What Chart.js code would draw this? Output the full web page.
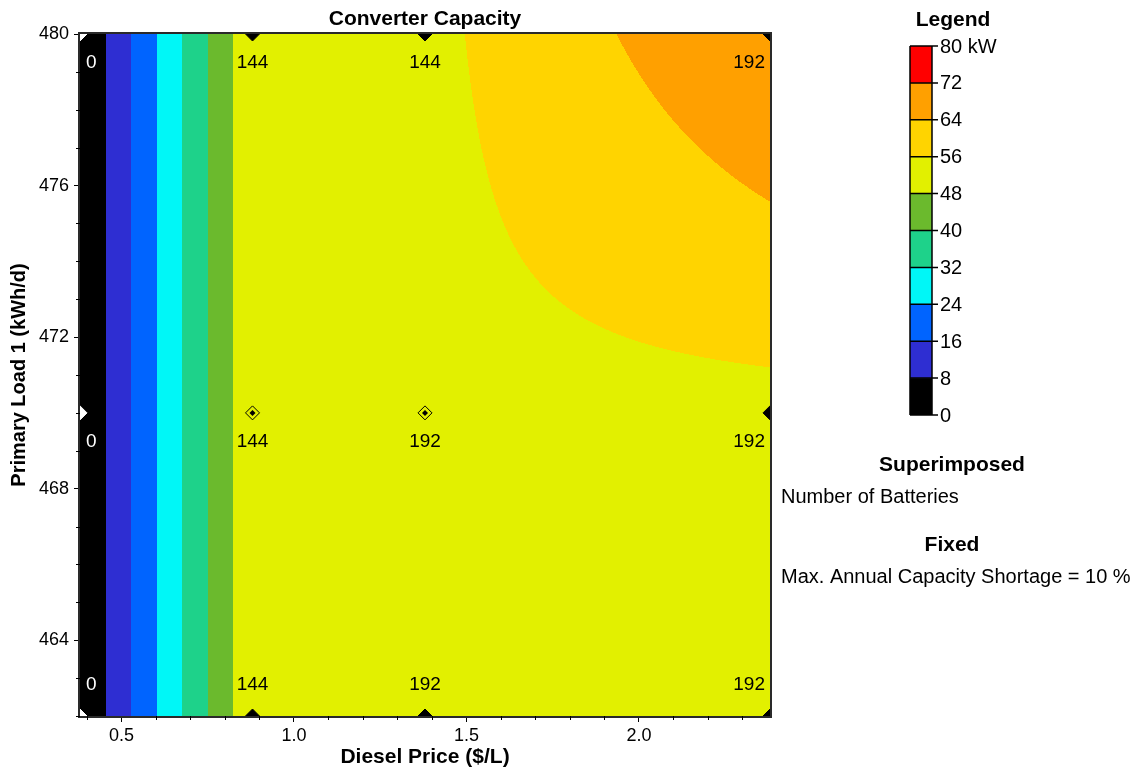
<!DOCTYPE html>
<html>
<head>
<meta charset="utf-8">
<title>Converter Capacity</title>
<script src="https://cdn.jsdelivr.net/npm/chart.js@4.4.1/dist/chart.umd.min.js"></script>
<style>
  html, body { margin: 0; padding: 0; background: #fff; }
  #wrap { width: 1134px; height: 771px; position: relative; }
</style>
</head>
<body>
<div id="wrap"><canvas id="chart"></canvas></div>
<script>
// sensitivity grid
const dieselPrices = [0.38, 0.88, 1.38, 2.38];   // $/L
const primaryLoads = [462, 470, 480];            // kWh/d

// converter capacity (kW), one row per primary load
const capacity462 = [0, 54, 54, 54];
const capacity470 = [0, 54, 54, 53.8];
const capacity480 = [0, 54, 53.9, 72.1];

// superimposed: number of batteries
const batteries462 = [0, 144, 192, 192];
const batteries470 = [0, 144, 192, 192];
const batteries480 = [0, 144, 144, 192];

// legend bands (kW)
const legendLevels = [0, 8, 16, 24, 32, 40, 48, 56, 64, 72, 80];
const legendColors = ['#000000', '#2e2ed2', '#0064ff', '#00f7f7', '#1ed28a',
                      '#6bba2d', '#e2f000', '#ffd400', '#ffa000', '#ff0000'];

const xTicks = [0.5, 1.0, 1.5, 2.0];
const yTicks = [464, 468, 472, 476, 480];
const superimposedText = 'Number of Batteries';
const fixedText = 'Max. Annual Capacity Shortage = 10 %';

const FONT = '"Liberation Sans", Arial, sans-serif';
Chart.defaults.font.family = FONT;
Chart.defaults.color = '#000';

const capacityRows = [capacity462, capacity470, capacity480];
const batteryRows = [batteries462, batteries470, batteries480];

const gridPoints = [];
primaryLoads.forEach((load, j) => {
  dieselPrices.forEach((price, i) => {
    gridPoints.push({ x: price, y: load, cap: capacityRows[j][i], bat: batteryRows[j][i], i, j });
  });
});

function findCell(arr, v) {
  let i = 0;
  while (i < arr.length - 2 && v > arr[i + 1]) i++;
  return i;
}

// bilinear value of the surface between grid points
function capacityAt(x, y) {
  const i = findCell(dieselPrices, x);
  const j = findCell(primaryLoads, y);
  let t = (x - dieselPrices[i]) / (dieselPrices[i + 1] - dieselPrices[i]);
  let s = (y - primaryLoads[j]) / (primaryLoads[j + 1] - primaryLoads[j]);
  t = Math.min(1, Math.max(0, t));
  s = Math.min(1, Math.max(0, s));
  const r0 = capacityRows[j], r1 = capacityRows[j + 1];
  return r0[i] * (1 - t) * (1 - s) + r0[i + 1] * t * (1 - s) +
         r1[i] * (1 - t) * s + r1[i + 1] * t * s;
}

function bandIndex(v) {
  let k = 0;
  while (k < legendColors.length - 1 && v >= legendLevels[k + 1]) k++;
  return k;
}

function hexToRgb(h) {
  return [parseInt(h.slice(1, 3), 16), parseInt(h.slice(3, 5), 16), parseInt(h.slice(5, 7), 16)];
}
const bandRgb = legendColors.map(hexToRgb);

const isEdge = p => p.i === 0 || p.i === dieselPrices.length - 1 ||
                    p.j === 0 || p.j === primaryLoads.length - 1;
const markColor = p => (p.cap < legendLevels[1] ? '#ffffff' : '#000000');

let surfaceCache = null;
const surfacePlugin = {
  id: 'surface',
  beforeDatasetsDraw(chart) {
    const { ctx, chartArea: a, scales: { x, y } } = chart;
    const w = Math.round(a.right - a.left), h = Math.round(a.bottom - a.top);
    if (!surfaceCache || surfaceCache.width !== w || surfaceCache.height !== h) {
      surfaceCache = document.createElement('canvas');
      surfaceCache.width = w;
      surfaceCache.height = h;
      const octx = surfaceCache.getContext('2d');
      const img = octx.createImageData(w, h);
      const xv = [];
      for (let px = 0; px < w; px++) xv.push(x.getValueForPixel(a.left + px + 0.5));
      for (let py = 0; py < h; py++) {
        const yv = y.getValueForPixel(a.top + py + 0.5);
        for (let px = 0; px < w; px++) {
          const c = bandRgb[bandIndex(capacityAt(xv[px], yv))];
          const o = (py * w + px) * 4;
          img.data[o] = c[0]; img.data[o + 1] = c[1]; img.data[o + 2] = c[2]; img.data[o + 3] = 255;
        }
      }
      octx.putImageData(img, 0, 0);
    }
    ctx.drawImage(surfaceCache, a.left, a.top);
  },
  afterDatasetsDraw(chart) {
    const { ctx, chartArea: a, scales: { x, y } } = chart;
    ctx.save();
    // battery count labels
    ctx.font = '19px ' + FONT;
    ctx.textBaseline = 'middle';
    gridPoints.forEach(p => {
      let px = x.getPixelForValue(p.x);
      let py = y.getPixelForValue(p.y);
      if (p.i === 0) { ctx.textAlign = 'left'; px += 6; }
      else if (p.i === dieselPrices.length - 1) { ctx.textAlign = 'right'; px -= 5; }
      else ctx.textAlign = 'center';
      py += p.j === 0 ? -31 : 29;
      ctx.fillStyle = markColor(p);
      ctx.fillText(String(p.bat), px, py);
    });
    // frame
    ctx.strokeStyle = '#2a2a2a';
    ctx.lineWidth = 2;
    ctx.strokeRect(a.left - 1, a.top - 1, a.right - a.left + 2, a.bottom - a.top + 2);
    // minor ticks
    ctx.strokeStyle = '#000';
    ctx.lineWidth = 1;
    ctx.beginPath();
    for (let k = Math.ceil(x.min * 10); k <= Math.floor(x.max * 10); k++) {
      if (k % 5 === 0) continue;
      const px = Math.round(x.getPixelForValue(k / 10)) + 0.5;
      ctx.moveTo(px, a.bottom);
      ctx.lineTo(px, a.bottom + 4);
    }
    for (let v = Math.ceil(y.min); v <= Math.floor(y.max); v++) {
      if (v % 4 === 0) continue;
      const py = Math.round(y.getPixelForValue(v)) + 0.5;
      ctx.moveTo(a.left, py);
      ctx.lineTo(a.left - 4, py);
    }
    ctx.stroke();
    ctx.restore();
  }
};

const sidePanelPlugin = {
  id: 'sidePanel',
  afterDraw(chart) {
    const ctx = chart.ctx;
    const barLeft = 910, barTop = 46, barW = 22, barBottom = 415;
    const n = legendColors.length;
    const segH = (barBottom - barTop) / n;
    ctx.save();
    ctx.fillStyle = '#000';
    ctx.textAlign = 'center';
    ctx.textBaseline = 'middle';
    ctx.font = 'bold 21px ' + FONT;
    ctx.fillText('Legend', 953, 20);

    legendColors.forEach((c, k) => {
      ctx.fillStyle = c;
      ctx.fillRect(barLeft, barBottom - (k + 1) * segH, barW, segH);
    });
    ctx.strokeStyle = '#000';
    ctx.lineWidth = 1.5;
    ctx.beginPath();
    legendLevels.forEach((lv, k) => {
      const yy = barBottom - k * segH;
      ctx.moveTo(barLeft, yy);
      ctx.lineTo(barLeft + barW + 6, yy);
    });
    ctx.moveTo(barLeft, barTop);
    ctx.lineTo(barLeft, barBottom);
    ctx.moveTo(barLeft + barW, barTop);
    ctx.lineTo(barLeft + barW, barBottom);
    ctx.stroke();

    ctx.fillStyle = '#000';
    ctx.font = '20px ' + FONT;
    ctx.textAlign = 'left';
    legendLevels.forEach((lv, k) => {
      const label = k === n ? lv + ' kW' : String(lv);
      ctx.fillText(label, barLeft + barW + 8, barBottom - k * segH + 1);
    });

    ctx.textAlign = 'center';
    ctx.font = 'bold 21px ' + FONT;
    ctx.fillText('Superimposed', 952, 465);
    ctx.fillText('Fixed', 952, 545);
    ctx.textAlign = 'left';
    ctx.font = '20px ' + FONT;
    ctx.fillText(superimposedText, 781, 497);
    ctx.fillText(fixedText, 781, 577);
    ctx.restore();
  }
};

new Chart(document.getElementById('chart'), {
  type: 'scatter',
  data: {
    datasets: [
      {
        label: 'Number of Batteries',
        data: gridPoints,
        pointStyle: 'rectRot',
        pointRadius: 7,
        pointBorderWidth: 1,
        pointBorderColor: c => markColor(c.raw),
        pointBackgroundColor: c => (isEdge(c.raw) ? markColor(c.raw) : 'rgba(0,0,0,0)'),
        clip: 0
      },
      {
        label: 'marker centre',
        data: gridPoints,
        pointStyle: 'rectRot',
        pointRadius: 3,
        pointBorderWidth: 0,
        pointBackgroundColor: c => markColor(c.raw),
        clip: 0
      }
    ]
  },
  options: {
    responsive: true,
    maintainAspectRatio: false,
    animation: false,
    events: [],
    layout: { padding: { left: 0, right: 364, top: 0, bottom: 0 } },
    plugins: {
      legend: { display: false },
      tooltip: { enabled: false },
      title: {
        display: true,
        fullSize: false,
        text: 'Converter Capacity',
        color: '#000',
        font: { size: 21, weight: 'bold' },
        padding: { top: 7, bottom: 1.8 }
      }
    },
    scales: {
      x: {
        type: 'linear',
        min: 0.38,
        max: 2.38,
        afterBuildTicks: s => { s.ticks = xTicks.map(v => ({ value: v })); },
        afterFit: s => { s.height = 55; },
        border: { display: false },
        grid: { drawOnChartArea: false, tickLength: 6, tickColor: '#000' },
        ticks: {
          callback: v => Number(v).toFixed(1),
          color: '#000',
          font: { size: 18 },
          padding: 3,
          maxRotation: 0,
          autoSkip: false
        },
        title: {
          display: true,
          text: 'Diesel Price ($/L)',
          color: '#000',
          font: { size: 21, weight: 'bold' },
          padding: { top: 0, bottom: 1 }
        }
      },
      y: {
        type: 'linear',
        min: 462,
        max: 480,
        afterBuildTicks: s => { s.ticks = yTicks.map(v => ({ value: v })); },
        afterFit: s => { s.width = 80; },
        border: { display: false },
        grid: { drawOnChartArea: false, tickLength: 6, tickColor: '#000' },
        ticks: { color: '#000', font: { size: 18 }, padding: 5, autoSkip: false },
        title: {
          display: true,
          text: 'Primary Load 1 (kWh/d)',
          color: '#000',
          font: { size: 20, weight: 'bold' },
          padding: { top: 7, bottom: 0 }
        }
      }
    }
  },
  plugins: [surfacePlugin, sidePanelPlugin]
});
</script>
</body>
</html>
